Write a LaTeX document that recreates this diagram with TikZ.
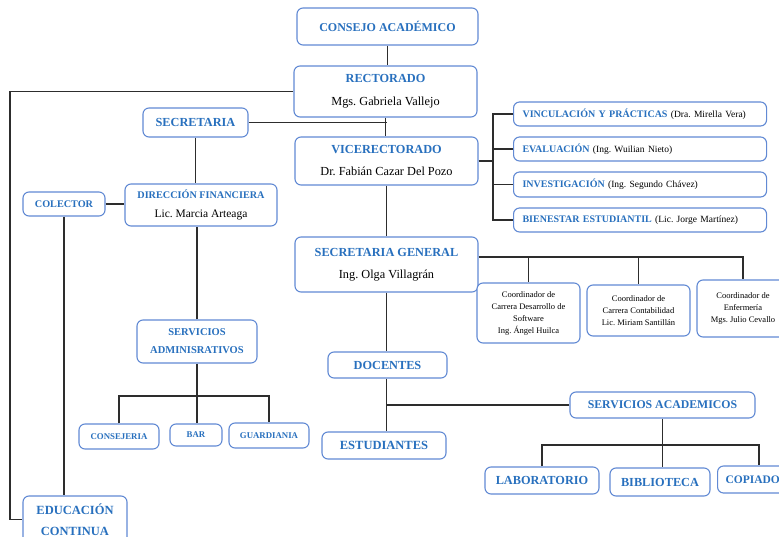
\documentclass[tikz,border=0pt]{standalone}
\usepackage{fontspec}
\setmainfont{Liberation Serif}
\definecolor{boxblue}{RGB}{98,138,212}
\definecolor{headblue}{RGB}{40,112,190}
\definecolor{linegray}{RGB}{45,45,45}
\newcommand\hdt[1]{{\bfseries\color{headblue}#1}}
\newcommand\fs[2]{\fontsize{#1}{#2}\selectfont}
\tikzset{
  bx/.style={draw=boxblue, line width=1.1pt, rounded corners=6pt, fill=white,
             inner sep=0pt, align=center},
  hd/.style={font=\bfseries\fontsize{12}{14}\selectfont, text=headblue},
  lbx/.style={bx, anchor=west, inner xsep=9pt, align=left},
  ln/.style={draw=linegray, line width=1.3pt},
}
\begin{document}
\frenchspacing
\begin{tikzpicture}[x=1pt,y=-1pt]
\useasboundingbox (0,0) rectangle (779,537);
\fill[white] (0,0) rectangle (779,537);
\clip (0,0) rectangle (779,537);

% ---------- boxes ----------
\node[bx, hd, font=\bfseries\fs{12}{14}, minimum width=181, minimum height=37] (consejo) at (387.5,26.5) {CONSEJO ACADÉMICO};
\node[bx, font=\fs{12.3}{14}, minimum width=183, minimum height=51] (rector) at (385.5,91.5) {\hdt{RECTORADO}\\[9pt]Mgs. Gabriela Vallejo};
\node[bx, hd, font=\bfseries\fs{12.3}{14}, minimum width=105, minimum height=29] (secre) at (195.5,122.5) {SECRETARIA};
\node[bx, font=\fs{12.3}{14}, minimum width=183, minimum height=48] (vice) at (386.5,161) {\hdt{VICERECTORADO}\\[8pt]Dr. Fabián Cazar Del Pozo};

\node[lbx, font=\fs{10}{12}, minimum width=253, minimum height=24, text width=235] (vinc) at (513,114) {\hdt{VINCULACIÓN Y PRÁCTICAS} {\fs{9.5}{11}(Dra. Mirella Vera)}};
\node[lbx, font=\fs{10}{12}, minimum width=253, minimum height=24, text width=235] (eval) at (513,149) {\hdt{EVALUACIÓN} {\fs{9.5}{11}(Ing. Wuilian Nieto)}};
\node[lbx, font=\fs{10}{12}, minimum width=253, minimum height=25, text width=235] (inv) at (513,184.5) {\hdt{INVESTIGACIÓN} {\fs{9.5}{11}(Ing. Segundo Chávez)}};
\node[lbx, font=\fs{10}{12}, minimum width=253, minimum height=24, text width=235] (bien) at (513,220) {\hdt{BIENESTAR ESTUDIANTIL} {\fs{9.5}{11}(Lic. Jorge Martínez)}};

\node[bx, hd, font=\bfseries\fs{10.2}{12}, minimum width=82, minimum height=24] (colector) at (64,204) {COLECTOR};
\node[bx, font=\fs{11.5}{13}, minimum width=152, minimum height=42] (df) at (201,205) {{\fs{10.2}{12}\hdt{DIRECCIÓN FINANCIERA}}\\[6pt]Lic. Marcia Arteaga};
\node[bx, hd, font=\bfseries\fs{10.5}{12.5}, minimum width=120, minimum height=43] (sadm) at (197,341.5) {SERVICIOS\\[5.5pt]ADMINISRATIVOS};
\node[bx, hd, font=\bfseries\fs{8.8}{10}, minimum width=80, minimum height=25] (cons) at (119,436.5) {CONSEJERIA};
\node[bx, hd, font=\bfseries\fs{8.8}{10}, minimum width=52, minimum height=22] (bar) at (196,435) {BAR};
\node[bx, hd, font=\bfseries\fs{8.8}{10}, minimum width=80, minimum height=25] (guard) at (269,435.5) {GUARDIANIA};
\node[bx, hd, font=\bfseries\fs{12.5}{14}, minimum width=104, minimum height=47] (educ) at (75,519.5) {EDUCACIÓN\\[7pt]CONTINUA};

\node[bx, font=\fs{12.3}{14}, minimum width=183, minimum height=55] (sg) at (386.5,264.5) {\hdt{SECRETARIA GENERAL}\\[8pt]Ing. Olga Villagrán};
\node[bx, font=\fs{8.5}{12}, minimum width=103, minimum height=60] (c1) at (528.5,313) {Coordinador de\\Carrera Desarrollo de\\Software\\Ing. Ángel Huilca};
\node[bx, font=\fs{8.5}{12}, minimum width=103, minimum height=51] (c2) at (638.5,310.5) {Coordinador de\\Carrera Contabilidad\\Lic. Miriam Santillán};
\node[bx, font=\fs{8.5}{12}, minimum width=92, minimum height=57] (c3) at (743,308.5) {Coordinador de\\Enfermería\\Mgs. Julio Cevallo};

\node[bx, hd, font=\bfseries\fs{12.3}{14}, minimum width=119, minimum height=26] (doc) at (387.5,365) {DOCENTES};
\node[bx, hd, font=\bfseries\fs{12.5}{14}, minimum width=124, minimum height=27] (est) at (384,445.5) {ESTUDIANTES};
\node[bx, hd, font=\bfseries\fs{11.8}{13}, minimum width=185, minimum height=26] (sa) at (662.5,405) {SERVICIOS ACADEMICOS};
\node[bx, hd, font=\bfseries\fs{12.3}{14}, minimum width=114, minimum height=27] (lab) at (542,480.5) {LABORATORIO};
\node[bx, hd, font=\bfseries\fs{12.3}{14}, minimum width=100, minimum height=28] (bib) at (660,482) {BIBLIOTECA};
\node[lbx, hd, font=\bfseries\fs{11.5}{14}, inner xsep=8pt, text width=67, minimum width=83, minimum height=27] (cop) at (717,479.5) {COPIADO};

% ---------- helper coordinates ----------
\coordinate (bx) at (493,0);
\coordinate (lf) at (10,0);
\coordinate (hsg) at (0,257);
\coordinate (hadm) at (0,396);
\coordinate (hsa) at (0,445);

% ---------- connectors ----------
\draw[ln] (consejo.south) -- (consejo.south |- rector.north);
\draw[ln] (rector.west) -- (rector.west -| lf) |- (educ.west);
\draw[ln] (secre.east) -- (secre.east -| vice.north);
\draw[ln] (rector.south) -- (rector.south |- vice.north);

\draw[ln] (vice.east) -- (vice.east -| bx);
\draw[ln] (vinc.west) -- (vinc.west -| bx) -- (bien.west -| bx) -- (bien.west);
\draw[ln] (eval.west) -- (eval.west -| bx);
\draw[ln] (inv.west) -- (inv.west -| bx);

\draw[ln] (secre.south) -- (secre.south |- df.north);
\draw[ln] (colector.east) -- (colector.east -| df.west);
\draw[ln] (sadm.north) -- (sadm.north |- df.south);
\draw[ln] (sadm.south) -- (sadm.south |- bar.north);
\draw[ln] (cons.north) -- (cons.north |- hadm) -- (guard.north |- hadm) -- (guard.north);
\draw[ln] (colector.south) -- (colector.south |- educ.north);

\draw[ln] (vice.south) -- (vice.south |- sg.north);
\draw[ln] (sg.east |- hsg) -- (c3.north |- hsg) -- (c3.north);
\draw[ln] (c1.north |- hsg) -- (c1.north);
\draw[ln] (c2.north |- hsg) -- (c2.north);

\draw[ln] (sg.south) -- (sg.south |- doc.north);
\draw[ln] (doc.south -| sg.south) -- (est.north -| sg.south);
\draw[ln] (sa.west) -- (sa.west -| sg.south);
\draw[ln] (sa.south) -- (sa.south |- bib.north);
\draw[ln] (lab.north) -- (lab.north |- hsa) -- (cop.north |- hsa) -- (cop.north);
\end{tikzpicture}
\end{document}
